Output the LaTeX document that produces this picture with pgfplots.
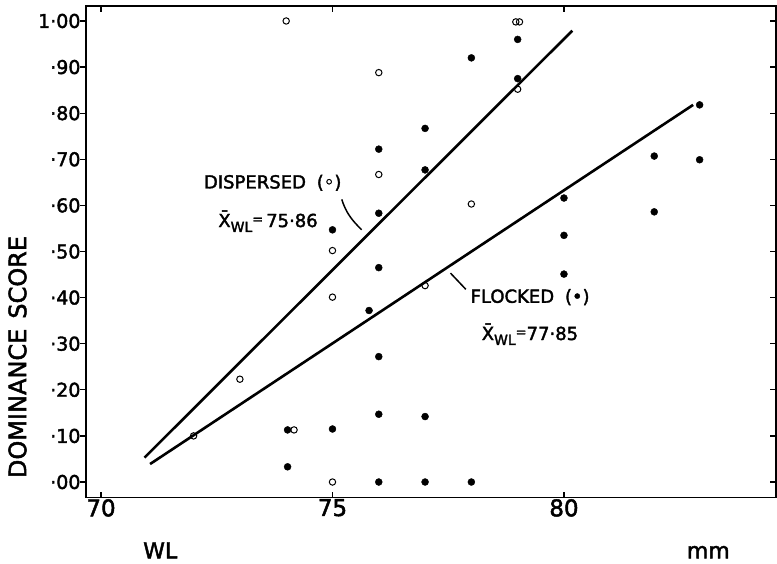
\documentclass[border=0pt]{standalone}
\usepackage{fontspec}
\setmainfont{DejaVu Sans}[FakeBold=2]
\usepackage{pgfplots}
\pgfplotsset{compat=1.18}
\newcommand\xwl{\={X}\raisebox{-0.5ex}{\fontsize{14}{14}\selectfont WL}\raisebox{0.35ex}{\fontsize{13}{13}\selectfont =}}
\pgfplotstableread{
x y
74 1.00
76 0.888
76 0.667
75 0.502
75 0.401
73 0.223
72 0.100
74.17 0.113
75 0.000
77 0.426
78 0.603
78.96 0.998
79.04 0.998
79 0.852
}\dispersed
\pgfplotstableread{
x y
75 0.547
76 0.722
76 0.583
76 0.465
75.79 0.372
76 0.272
76 0.147
76 0.000
75 0.115
74.03 0.033
74.03 0.113
77 0.767
77 0.677
77 0.142
77 0.000
78 0.920
78 0.000
79 0.960
79 0.875
80 0.616
80 0.535
80 0.451
81.95 0.707
81.95 0.586
82.93 0.818
82.93 0.699
}\flocked
\begin{document}
\begin{tikzpicture}
\begin{axis}[
  at={(86pt,66.3pt)}, anchor=south west,
  scale only axis, width=690pt, height=491.7pt,
  xmin=69.676, xmax=84.58, ymin=-0.034, ymax=1.0325,
  axis line style={line width=1.6pt},
  xtick={70,75,80}, xticklabels={70,75,80},
  ytick={0,0.1,0.2,0.3,0.4,0.5,0.6,0.7,0.8,0.9,1.0},
  yticklabels={·00,·10,·20,·30,·40,·50,·60,·70,·80,·90,1·00},
  ytick pos=right, yticklabel pos=left,
  tick align=inside,
  major tick length=6pt,
  tick style={line width=1.2pt, black},
  x tick label style={font=\fontsize{23}{25}\selectfont, yshift=2pt},
  y tick label style={font=\fontsize{19}{22}\selectfont, xshift=-2pt},
  clip=false,
]
\addplot[black, line width=2.6pt] coordinates {(70.94,0.053) (80.18,0.979)};
\addplot[black, line width=2.6pt] coordinates {(71.06,0.039) (82.79,0.818)};
\addplot[only marks, mark=*, mark size=3.5pt, black] table[x=x,y=y] {\flocked};
\addplot[only marks, mark=o, mark size=3.2pt, black, line width=1pt, mark options={fill=white}] table[x=x,y=y] {\dispersed};
\pgfplotsinvokeforeach{0,0.1,0.2,0.3,0.4,0.5,0.6,0.7,0.8,0.9,1.0}{
  \draw[line width=1.2pt] (axis cs:69.676,#1) -- ++(-6pt,0pt);
}
\draw[line width=1.5pt] (axis cs:75.20,0.613) to[out=-72,in=135] (axis cs:75.63,0.547);
\draw[line width=1.5pt] (axis cs:77.55,0.453) -- (axis cs:77.88,0.418);
\node[anchor=west, font=\fontsize{18}{20}\selectfont, inner sep=0pt] at (axis cs:72.22,0.649) {DISPERSED\hspace{0.6em}(◦)};
\node[anchor=base west, font=\fontsize{18}{20}\selectfont, inner sep=0pt] at (axis cs:72.53,0.553) {\xwl\,75·86};
\node[anchor=west, font=\fontsize{18}{20}\selectfont, inner sep=0pt] at (axis cs:77.98,0.401) {FLOCKED\hspace{0.6em}(•)};
\node[anchor=base west, font=\fontsize{18}{20}\selectfont, inner sep=0pt] at (axis cs:78.22,0.308) {\xwl77·85};
\end{axis}
\node[rotate=90, font=\fontsize{24}{26}\selectfont, inner sep=0pt] at (17.5pt,207pt) {DOMINANCE\hspace{10pt}SCORE};
\node[anchor=base west, font=\fontsize{22}{24}\selectfont, inner sep=0pt] at (143pt,5.7pt) {WL};
\node[anchor=base west, font=\fontsize{22}{24}\selectfont, inner sep=0pt] at (686.7pt,5.7pt) {mm};
\pgfresetboundingbox
\path[use as bounding box] (0,0) rectangle (777pt,564pt);
\end{tikzpicture}
\end{document}
